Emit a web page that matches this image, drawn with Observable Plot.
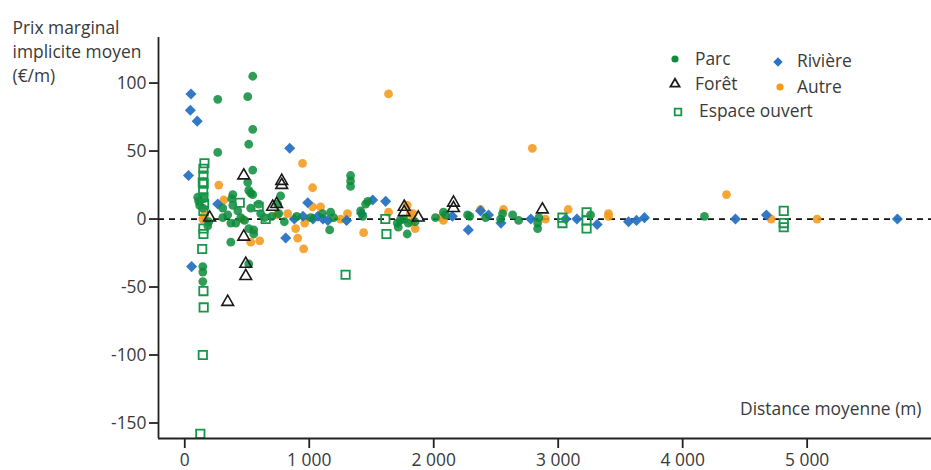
<!DOCTYPE html>
<html><head><meta charset="utf-8">
<script src="https://cdn.jsdelivr.net/npm/d3@7"></script>
<script src="https://cdn.jsdelivr.net/npm/@observablehq/plot@0.6"></script>
<style>
body{margin:0;background:#fff;}
#wrap{position:relative;width:931px;height:470px;overflow:hidden;font-family:"Open Sans",sans-serif;}
#wrap svg.leg{position:absolute;left:0;top:0;pointer-events:none;}
</style></head><body><div id="wrap"></div>
<script>
// Data: [distance moyenne (m), prix marginal implicite moyen (€/m)]
const parc = [[546,105],[506,90],[265,88],[546,66],[514,55],[265,49],[546,36],[506,27],[514,21],[546,18],[386,18],[377,15],[530,19],[104,16],[153,15],[112,13],[145,8],[120,10],[386,10],[426,6],[530,8],[345,3],[594,11],[610,4],[370,-3],[514,-7],[554,-8],[370,-17],[185,-5],[193,-2],[305,1],[305,8],[410,-3],[450,1],[480,-1],[145,-35],[145,-39],[145,-46],[554,-11],[514,-33],[640,1],[700,2],[755,4],[746,11],[770,17],[800,-2],[900,2],[1011,1],[1107,4],[1172,5],[1196,1],[1164,-8],[1332,32],[1332,28],[1332,24],[1413,6],[1453,11],[1470,13],[1430,2],[1707,-3],[1731,-1],[1715,-6],[1787,-11],[1795,-3],[1760,0],[1850,-2],[2014,1],[2078,5],[2095,3],[2272,3],[2290,2],[2417,1],[2537,0],[2553,4],[2634,3],[2682,-1],[2835,-3],[2835,-7],[2845,1],[3260,3],[4175,2]];
const riviere = [[50,92],[45,80],[100,72],[30,32],[55,-35],[265,11],[843,52],[988,12],[811,-14],[880,0],[950,2],[1030,0],[1070,2],[1110,0],[1150,-1],[1300,-1],[1420,4],[1510,14],[1614,13],[2150,2],[2278,-8],[2376,6],[2440,3],[2540,-3],[2780,0],[3060,0],[3150,0],[3313,-4],[3565,-2],[3629,-1],[3693,1],[4424,0],[4673,3],[5725,0]];
const autre = [[1637,92],[2792,52],[946,41],[1027,23],[273,25],[313,14],[145,0],[160,3],[466,0],[530,-17],[602,-16],[827,4],[891,-7],[907,-14],[955,-22],[1027,9],[1091,9],[963,-3],[740,3],[1252,0],[1307,4],[1437,-10],[1637,5],[1787,10],[1811,4],[1835,4],[1851,-7],[1820,-2],[2078,-1],[2060,1],[2376,7],[2561,7],[2897,0],[3080,7],[3404,4],[3404,2],[4352,18],[4712,0],[5080,0]];
const foret = [[474,32],[779,28],[779,25],[200,1],[474,-13],[490,-33],[490,-42],[345,-61],[706,9],[738,11],[1763,9],[1763,5],[1876,1],[2159,12],[2159,8],[2873,7]];
const espace = [[158,41],[150,37],[150,32],[145,27],[152,26],[148,21],[150,16],[155,11],[150,6],[150,-7],[150,-11],[140,-22],[150,-53],[152,-65],[145,-100],[125,-158],[442,12],[594,9],[650,0],[1292,-41],[1611,0],[1620,-11],[3034,1],[3034,-3],[3228,5],[3228,-1],[3228,-7],[4812,6],[4812,-3],[4812,-6]];
const xTicks = [0,1000,2000,3000,4000,5000];
const yTicks = [-150,-100,-50,0,50,100];
const yTitle = "Prix marginal\nimplicite moyen\n(€/m)";
const xTitle = "Distance moyenne (m)";
const legendItems = ["Parc","Rivière","Forêt","Autre","Espace ouvert"];

const C = {parc:"#0b8b3b", riv:"#2873c3", autre:"#f59a1b", foret:"#1a1a1a", esp:"#17964a", text:"#3a3a3a", axis:"#222"};
const FS = 17.4;
const xD = [-211, 5999], yD = [-161.4, 133.5];
const X = d => d[0], Y = d => d[1];

const chart = Plot.plot({
  width: 931, height: 470,
  marginLeft: 158, marginTop: 37, marginBottom: 32, marginRight: 0,
  style: {fontFamily: "Open Sans", fontSize: FS + "px", color: C.text, background: "white", overflow: "visible"},
  x: {domain: xD},
  y: {domain: yD},
  marks: [
    Plot.ruleY([0], {stroke: "#111", strokeWidth: 1.8, strokeDasharray: "6,5"}),
    Plot.dot(autre, {x: X, y: Y, r: 4.4, fill: C.autre, fillOpacity: 0.88, stroke: null}),
    Plot.dot(riviere, {x: X, y: Y, r: 5, symbol: "diamond2", fill: C.riv, fillOpacity: 0.95, stroke: null}),
    Plot.dot(parc, {x: X, y: Y, r: 4.4, fill: C.parc, fillOpacity: 0.85, stroke: null}),
    Plot.dot(espace, {x: X, y: Y, r: 5.3, symbol: "square2", fill: "none", stroke: C.esp, strokeWidth: 1.8}),
    Plot.dot(foret, {x: X, y: Y, r: 5.6, symbol: "triangle2", fill: "none", stroke: C.foret, strokeWidth: 1.6}),
    Plot.ruleX([xD[0]], {stroke: C.axis, strokeWidth: 1.8}),
    Plot.ruleY([yD[0]], {stroke: C.axis, strokeWidth: 1.8}),
    Plot.axisY({ticks: yTicks, tickSize: 9, tickPadding: 3, tickFormat: d => String(d), label: null, stroke: C.axis, strokeWidth: 1.8, fill: C.text, fontSize: FS}),
    Plot.axisX({ticks: xTicks, tickSize: 10, tickPadding: 5, tickFormat: d => d3.format(",")(d).replace(/,/g, " "), label: null, stroke: C.axis, strokeWidth: 1.8, fill: C.text, fontSize: FS}),
    Plot.text([yTitle], {text: d => d, frameAnchor: "top-left", textAnchor: "start", lineAnchor: "top", dx: -146, dy: -21, lineHeight: 1.38, fill: C.text, fontSize: FS}),
    Plot.text([xTitle], {text: d => d, frameAnchor: "bottom-right", textAnchor: "end", lineAnchor: "top", dx: -10, dy: -36, fill: C.text, fontSize: FS})
  ]
});
const wrap = document.getElementById("wrap");
wrap.appendChild(chart);

// Legend overlay
const leg = d3.select(wrap).append("svg").attr("class","leg").attr("width",931).attr("height",470)
  .style("font-family","Open Sans").style("font-size", FS + "px");
const spec = [
  {label: legendItems[0], sx: 675, sy: 59, ty: 65, tx: 695, sym: d3.symbolCircle, size: 40, fill: C.parc, stroke: "none"},
  {label: legendItems[1], sx: 778, sy: 62, ty: 67, tx: 797, sym: d3.symbolDiamond2, size: 55, fill: C.riv, stroke: "none"},
  {label: legendItems[2], sx: 675, sy: 84, ty: 90, tx: 695, sym: d3.symbolTriangle2, size: 60, fill: "none", stroke: C.foret},
  {label: legendItems[3], sx: 780, sy: 87, ty: 93, tx: 797, sym: d3.symbolCircle, size: 40, fill: C.autre, stroke: "none"},
  {label: legendItems[4], sx: 678, sy: 112, ty: 117, tx: 699, sym: d3.symbolSquare2, size: 55, fill: "none", stroke: C.esp}
];
for (const s of spec) {
  leg.append("path").attr("d", d3.symbol(s.sym, s.size)()).attr("transform", `translate(${s.sx},${s.sy})`)
    .attr("fill", s.fill).attr("stroke", s.stroke).attr("stroke-width", 1.8);
  leg.append("text").attr("x", s.tx).attr("y", s.ty).attr("fill", C.text).text(s.label);
}
</script></body></html>
